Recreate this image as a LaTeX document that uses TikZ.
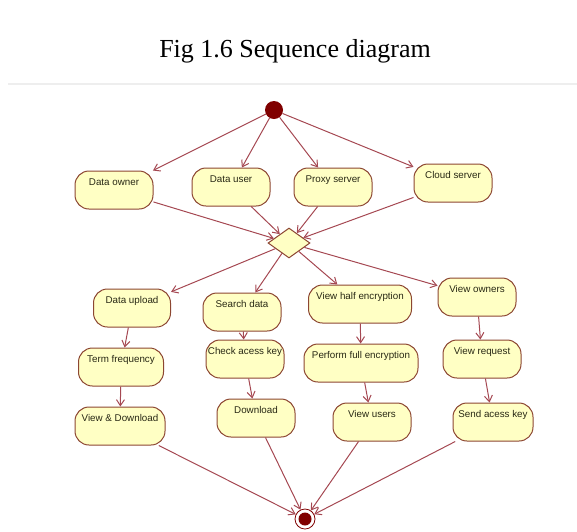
\documentclass[tikz,border=0pt]{standalone}
\usepackage{fontspec}
\setmainfont{Liberation Serif}
\newfontfamily\nodefontfam{Liberation Sans}
\usetikzlibrary{shapes.geometric,arrows.meta}
\definecolor{nodefill}{RGB}{255,255,196}
\definecolor{nodeline}{RGB}{140,70,50}
\definecolor{arrowcol}{RGB}{165,72,82}
\definecolor{dotred}{RGB}{128,0,0}
\definecolor{rulegray}{RGB}{238,238,238}
\definecolor{nodetext}{RGB}{40,40,20}
\begin{document}
\begin{tikzpicture}[x=1pt,y=-1pt,
  act/.style={draw=nodeline, fill=nodefill, rounded corners=14pt, line width=1pt,
    text height=7pt, text depth=16pt, inner ysep=7.5pt, inner xsep=0pt, text=nodetext,
    font=\nodefontfam\fontsize{9.8}{11}\selectfont},
  flow/.style={draw=arrowcol, line width=1pt, -{Straight Barb[length=6pt,width=8pt]}},
  decision/.style={diamond, draw=nodeline, fill=nodefill, line width=1pt, inner sep=0pt,
    minimum width=42pt, minimum height=30pt}
]
\useasboundingbox (0,0) rectangle (577,531);
% title and rule
\node[font=\fontsize{26}{30}\selectfont, anchor=base] (title) at (295,57) {Fig 1.6 Sequence diagram};
\coordinate (ruleL) at (8,84);
\coordinate (ruleR) at (577,84);
\draw[rulegray, line width=1.2pt] (ruleL) -- (ruleR);

% start and end
\node[circle, fill=dotred, inner sep=0pt, minimum size=18pt] (start) at (274,110) {};
\node[circle, draw=dotred, fill=white, line width=0.8pt, inner sep=0pt, minimum size=20pt] (final) at (305,519) {};
\fill[dotred] (final.center) circle (6.5pt);

% top row
\node[act, minimum width=78pt] (owner) at (114,190) {Data owner};
\node[act, minimum width=78pt] (user)  at (231,187) {Data user};
\node[act, minimum width=78pt] (proxy) at (333,187) {Proxy server};
\node[act, minimum width=78pt] (cloud) at (453,183) {Cloud server};

\node[decision] (dec) at (289,243) {};

% second row
\node[act, minimum width=77pt]  (upload) at (132,308) {Data upload};
\node[act, minimum width=78pt]  (search) at (242,312) {Search data};
\node[act, minimum width=103pt] (half)   at (360,304) {View half encryption};
\node[act, minimum width=78pt]  (vown)   at (477,297) {View owners};

% third row
\node[act, minimum width=85pt]  (term)    at (121,367) {Term frequency};
\node[act, minimum width=78pt]  (check)   at (245,359) {Check acess key};
\node[act, minimum width=114pt] (perform) at (361,363) {Perform full encryption};
\node[act, minimum width=78pt]  (vreq)    at (482,359) {View request};

% fourth row
\node[act, minimum width=90pt] (vdl)    at (120,426) {View \& Download};
\node[act, minimum width=78pt] (dl)     at (256,418) {Download};
\node[act, minimum width=78pt] (vusers) at (372,422) {View users};
\node[act, minimum width=80pt] (send)   at (493,422) {Send acess key};

% connectors
\draw[flow] (start) -- (owner);
\draw[flow] (start) -- (user);
\draw[flow] (start) -- (proxy);
\draw[flow] (start) -- (cloud);

\draw[flow] (owner) -- (dec);
\draw[flow] (user) -- (dec);
\draw[flow] (proxy) -- (dec);
\draw[flow] (cloud) -- (dec);

\draw[flow] (dec) -- (upload);
\draw[flow] (dec) -- (search);
\draw[flow] (dec) -- (half);
\draw[flow] (dec) -- (vown);

\draw[flow] (upload) -- (term);
\draw[flow] (term) -- (vdl);
\draw[flow] (search) -- (check);
\draw[flow] (check) -- (dl);
\draw[flow] (half) -- (perform);
\draw[flow] (perform) -- (vusers);
\draw[flow] (vown) -- (vreq);
\draw[flow] (vreq) -- (send);

\draw[flow] (vdl) -- (final);
\draw[flow] (dl) -- (final);
\draw[flow] (vusers) -- (final);
\draw[flow] (send) -- (final);
\end{tikzpicture}
\end{document}
